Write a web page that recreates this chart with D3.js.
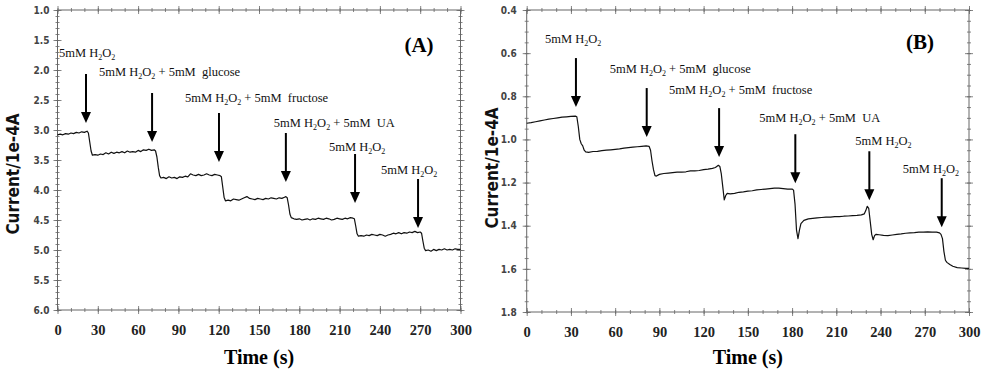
<!DOCTYPE html>
<html>
<head>
<meta charset="utf-8">
<script src="https://cdn.jsdelivr.net/npm/d3@7"></script>
<style>
body { margin: 0; background: #fff; }
svg { display: block; }
</style>
</head>
<body>
<script>
// tick labels
const timeTicks = [0, 30, 60, 90, 120, 150, 180, 210, 240, 270, 300]
const currentTicksA = [1.0, 1.5, 2.0, 2.5, 3.0, 3.5, 4.0, 4.5, 5.0, 5.5, 6.0]
const currentTicksB = [0.4, 0.6, 0.8, 1.0, 1.2, 1.4, 1.6, 1.8]

// trace A : [time (s), current (1e-4 A)]
const traceA = [
  [0, 3.08], [2, 3.07], [4, 3.08], [6, 3.06], [8, 3.07], [10, 3.05], [12, 3.06], [14, 3.04], [16, 3.05], [18, 3.03],
  [20, 3.04], [22, 3.02], [23, 3.05], [24, 3.2], [25, 3.35], [26, 3.42], [28, 3.41], [30, 3.42], [32, 3.40], [34, 3.41],
  [36, 3.38], [38, 3.40], [40, 3.37], [42, 3.39], [44, 3.37], [46, 3.38], [48, 3.36], [50, 3.38], [52, 3.35], [54, 3.37],
  [56, 3.36], [58, 3.37], [60, 3.34], [62, 3.36], [64, 3.33], [66, 3.34], [68, 3.32], [70, 3.34], [72, 3.33], [73, 3.35],
  [74, 3.45], [75, 3.62], [76, 3.76], [77, 3.80], [79, 3.79], [81, 3.81], [83, 3.78], [85, 3.80], [87, 3.79], [89, 3.81],
  [91, 3.78], [93, 3.79], [95, 3.77], [97, 3.78], [99, 3.73], [101, 3.75], [103, 3.76], [105, 3.74], [107, 3.76], [109, 3.75],
  [111, 3.73], [113, 3.75], [115, 3.76], [117, 3.74], [119, 3.75], [121, 3.76], [122, 3.78], [123, 3.95], [124, 4.12], [125, 4.18],
  [127, 4.17], [129, 4.18], [131, 4.15], [133, 4.16], [135, 4.17], [137, 4.15], [139, 4.13], [141, 4.11], [143, 4.14], [145, 4.15],
  [147, 4.16], [149, 4.14], [151, 4.15], [153, 4.16], [155, 4.14], [157, 4.15], [159, 4.13], [161, 4.14], [163, 4.15], [165, 4.13],
  [167, 4.14], [169, 4.12], [170, 4.11], [171, 4.13], [172, 4.25], [173, 4.40], [174, 4.46], [176, 4.48], [178, 4.49], [180, 4.48],
  [182, 4.50], [184, 4.49], [186, 4.48], [188, 4.50], [190, 4.48], [192, 4.49], [194, 4.47], [196, 4.48], [198, 4.49], [200, 4.47],
  [202, 4.48], [204, 4.50], [206, 4.49], [208, 4.47], [210, 4.48], [212, 4.49], [214, 4.47], [216, 4.48], [218, 4.46], [220, 4.47],
  [221, 4.48], [222, 4.60], [223, 4.73], [224, 4.77], [226, 4.76], [228, 4.77], [230, 4.75], [232, 4.76], [234, 4.74], [236, 4.75],
  [238, 4.76], [240, 4.74], [242, 4.75], [244, 4.77], [246, 4.75], [248, 4.74], [250, 4.72], [252, 4.73], [254, 4.71], [256, 4.73],
  [258, 4.71], [260, 4.72], [262, 4.70], [264, 4.71], [266, 4.69], [268, 4.71], [270, 4.70], [271, 4.72], [272, 4.85], [273, 4.97],
  [274, 5.01], [276, 5.00], [278, 5.02], [280, 4.99], [282, 5.01], [284, 4.99], [286, 5.00], [288, 4.98], [290, 5.00], [292, 4.99],
  [294, 5.00], [296, 4.98], [298, 4.99], [300, 4.99]
]

// trace B
const traceB = [
  [0, 0.925], [3, 0.922], [6, 0.918], [9, 0.914], [12, 0.910], [15, 0.906], [18, 0.903], [21, 0.900], [24, 0.897], [27, 0.895],
  [30, 0.893], [33, 0.892], [34, 0.895], [35, 0.94], [36, 1.00], [37, 1.02], [38, 1.03], [39, 1.05], [40, 1.058], [42, 1.060],
  [45, 1.056], [48, 1.055], [51, 1.052], [54, 1.050], [57, 1.048], [60, 1.046], [63, 1.044], [66, 1.040], [69, 1.038], [72, 1.036],
  [75, 1.034], [78, 1.032], [81, 1.030], [83, 1.032], [84, 1.05], [85, 1.10], [86, 1.14], [87, 1.168], [88, 1.170], [90, 1.162],
  [93, 1.158], [96, 1.156], [99, 1.154], [102, 1.152], [105, 1.152], [108, 1.150], [111, 1.146], [114, 1.146], [117, 1.144], [120, 1.140],
  [123, 1.138], [126, 1.134], [128, 1.130], [130, 1.120], [131, 1.125], [132, 1.16], [133, 1.22], [134, 1.28], [135, 1.26], [136, 1.25],
  [138, 1.252], [141, 1.250], [144, 1.245], [147, 1.243], [150, 1.240], [153, 1.238], [156, 1.234], [159, 1.232], [162, 1.230], [165, 1.228],
  [168, 1.226], [171, 1.226], [174, 1.228], [177, 1.230], [180, 1.230], [181, 1.235], [182, 1.30], [183, 1.42], [184, 1.46], [185, 1.42],
  [186, 1.39], [188, 1.375], [191, 1.368], [194, 1.366], [197, 1.364], [200, 1.362], [203, 1.360], [206, 1.360], [209, 1.358], [212, 1.358],
  [215, 1.356], [218, 1.355], [221, 1.353], [224, 1.352], [227, 1.350], [229, 1.345], [230, 1.33], [231, 1.31], [232, 1.32], [233, 1.38],
  [234, 1.44], [235, 1.465], [236, 1.445], [237, 1.44], [239, 1.442], [242, 1.445], [245, 1.446], [248, 1.443], [251, 1.440], [254, 1.438],
  [257, 1.435], [260, 1.433], [263, 1.432], [266, 1.430], [269, 1.430], [272, 1.429], [275, 1.430], [278, 1.430], [280, 1.433], [281, 1.44],
  [282, 1.46], [283, 1.52], [284, 1.56], [285, 1.57], [287, 1.58], [289, 1.588], [292, 1.594], [295, 1.596], [298, 1.598], [300, 1.598]
]

// injections : label parts, time of the arrow, current at arrow tip
const injectionLabels = [
  ["5mM H", "2", "O", "2", ""],
  ["5mM H", "2", "O", "2", " + 5mM  glucose"],
  ["5mM H", "2", "O", "2", " + 5mM  fructose"],
  ["5mM H", "2", "O", "2", " + 5mM  UA"],
  ["5mM H", "2", "O", "2", ""],
  ["5mM H", "2", "O", "2", ""]
]
const arrowTimesA = [21.2, 70.4, 120.2, 170, 221.5, 268.4]
const arrowTipsA = [2.883, 3.2, 3.533, 3.867, 4.217, 4.633]
const arrowTimesB = [33.4, 81.4, 130.5, 182.2, 232.4, 281.5]
const arrowTipsB = [0.850, 0.989, 1.082, 1.203, 1.282, 1.407]

let svg = d3.select("body").append("svg")
  .attr("width", 981)
  .attr("height", 372)

let serif = "'Liberation Serif', 'Times New Roman', serif"
let narrow = "'Liberation Sans Narrow', 'DejaVu Sans Condensed', 'Liberation Sans', sans-serif"

function dessinerPanneau(p) {
  let x = d3.scaleLinear().domain([0, 300]).range([p.left, p.right])
  let y = d3.scaleLinear().domain(p.yDomain).range([p.top, p.bottom])
  let g = svg.append("g")

  // ticks on the four sides, crossing the frame
  function ticks(axisFn, scale, values, size, tx, ty) {
    g.append("g")
      .attr("transform", "translate(" + tx + "," + ty + ")")
      .call(axisFn(scale).tickValues(values).tickSize(size).tickFormat(""))
      .call(s => s.select(".domain").remove())
      .selectAll("line").attr("stroke", "#666").attr("stroke-width", 0.8)
  }
  let minorX = x.ticks(30)
  let minorY = y.ticks(p.minorCount)
  ;[[d3.axisBottom, p.bottom], [d3.axisTop, p.bottom], [d3.axisBottom, p.top], [d3.axisTop, p.top]].forEach(a => {
    ticks(a[0], x, timeTicks, 4, 0, a[1])
    ticks(a[0], x, minorX, 2, 0, a[1])
  })
  ;[[d3.axisLeft, p.left], [d3.axisRight, p.left], [d3.axisLeft, p.right], [d3.axisRight, p.right]].forEach(a => {
    ticks(a[0], y, p.yTicks, 4, a[1], 0)
    ticks(a[0], y, minorY, 2, a[1], 0)
  })

  g.append("rect")
    .attr("x", p.left).attr("y", p.top)
    .attr("width", p.right - p.left).attr("height", p.bottom - p.top)
    .attr("fill", "none").attr("stroke", "#666").attr("stroke-width", 1)

  // tick labels
  g.append("g")
    .attr("transform", "translate(0," + p.bottom + ")")
    .call(d3.axisBottom(x).tickValues(timeTicks).tickSize(4).tickPadding(11))
    .call(s => s.select(".domain").remove())
    .call(s => s.selectAll("line").remove())
    .selectAll("text")
    .attr("font-family", serif).attr("font-weight", "bold").attr("font-size", 14.5).attr("fill", "#222")

  g.append("g")
    .attr("transform", "translate(" + p.left + ",0)")
    .call(d3.axisLeft(y).tickValues(p.yTicks).tickSize(4).tickPadding(p.yPad).tickFormat(d3.format(".1f")))
    .call(s => s.select(".domain").remove())
    .call(s => s.selectAll("line").remove())
    .selectAll("text")
    .attr("font-family", narrow).attr("font-weight", "bold").attr("font-size", 10).attr("fill", "#444")

  // axis titles
  g.append("text")
    .attr("x", (p.left + p.right) / 2).attr("y", 364)
    .attr("text-anchor", "middle")
    .attr("font-family", serif).attr("font-weight", "bold").attr("font-size", 20)
    .text("Time (s)")
  g.append("text")
    .attr("transform", "translate(" + p.titleX + "," + p.titleY + ") rotate(-90)")
    .attr("text-anchor", "middle")
    .attr("font-family", narrow).attr("font-weight", "bold").attr("font-size", 17).attr("fill", "#111")
    .text("Current/1e-4A")

  g.append("text")
    .attr("x", p.tagX).attr("y", p.tagY)
    .attr("text-anchor", "middle")
    .attr("font-family", serif).attr("font-weight", "bold").attr("font-size", 21)
    .text(p.tag)

  // trace
  let ligne = d3.line().x(d => x(d[0])).y(d => y(d[1]))
  g.append("path")
    .datum(p.trace)
    .attr("d", ligne)
    .attr("fill", "none").attr("stroke", "#111").attr("stroke-width", 1.2)
    .attr("stroke-linejoin", "round")

  // arrows + labels
  p.arrowTimes.forEach((t, i) => {
    let ax = x(t)
    let tip = y(p.arrowTips[i])
    let top = tip - 49
    g.append("line")
      .attr("x1", ax).attr("x2", ax).attr("y1", top).attr("y2", tip - 10)
      .attr("stroke", "#000").attr("stroke-width", 2)
    g.append("path")
      .attr("d", "M" + (ax - 5) + "," + (tip - 11) + "L" + (ax + 5) + "," + (tip - 11) + "L" + ax + "," + tip + "Z")
      .attr("fill", "#000")

    let parts = injectionLabels[i]
    let txt = g.append("text")
      .attr("x", ax + p.labelDx[i]).attr("y", top + p.labelDy[i])
      .attr("font-family", serif).attr("font-size", 12.5).attr("fill", "#111")
    txt.append("tspan").text(parts[0])
    txt.append("tspan").attr("font-size", 8).attr("dy", 3).text(parts[1])
    txt.append("tspan").attr("dy", -3).text(parts[2])
    txt.append("tspan").attr("font-size", 8).attr("dy", 3).text(parts[3])
    txt.append("tspan").attr("dy", -3).style("white-space", "pre").text(parts[4])
  })
}

dessinerPanneau({
  left: 57.5, right: 460.5, top: 10, bottom: 310,
  yDomain: [1.0, 6.0], yTicks: currentTicksA, minorCount: 50, yPad: 4,
  titleX: 19, titleY: 174, tag: "(A)", tagX: 419, tagY: 52,
  trace: traceA, arrowTimes: arrowTimesA, arrowTips: arrowTipsA,
  labelDx: [-27, -53, -34, -12, -26, -37],
  labelDy: [-17, -17, -11, -6, -3, -5]
})

dessinerPanneau({
  left: 526.7, right: 969, top: 10, bottom: 312,
  yDomain: [0.4, 1.8], yTicks: currentTicksB, minorCount: 28, yPad: 6,
  titleX: 498, titleY: 168, tag: "(B)", tagX: 920, tagY: 49,
  trace: traceB, arrowTimes: arrowTimesB, arrowTips: arrowTipsB,
  labelDx: [-31, -37, -50, -36, -14, -39],
  labelDy: [-15, -15, -14, -12, -6, -5]
})
</script>
</body>
</html>
